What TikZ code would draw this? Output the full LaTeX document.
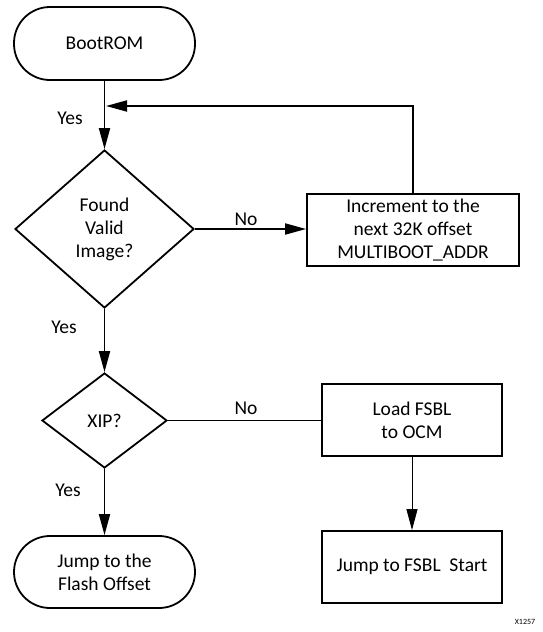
\documentclass[tikz,border=0pt]{standalone}
\usepackage{fontspec}
\setmainfont{Carlito}
\usetikzlibrary{shapes.geometric,arrows.meta}
\begin{document}
\begin{tikzpicture}[x=1pt,y=-1pt,
  every node/.style={font=\fontsize{19.5}{23}\selectfont, align=center, inner sep=0pt},
  term/.style={draw, line width=1.8pt, rounded corners=36pt, minimum width=181pt, minimum height=73pt},
  proc/.style={draw, line width=1.8pt, minimum width=212pt, minimum height=72pt},
  proc2/.style={draw, line width=1.8pt, minimum width=180pt, minimum height=72pt},
  dec/.style={draw, line width=1.8pt, diamond},
  flow/.style={line width=1.8pt, -{Triangle[length=21pt,width=11pt]}},
  thinflow/.style={line width=1pt, -{Triangle[length=21pt,width=11pt]}},
  line/.style={line width=1.8pt},
  lbl/.style={font=\fontsize{19.5}{23}\selectfont}
]
\useasboundingbox (0,0) rectangle (543,632);
\node[term] (boot) at (104.5,43.5) {BootROM};
\node[dec, minimum width=179pt, minimum height=158pt] (d1) at (104.5,229) {Found\\Valid\\Image?};
\node[proc] (inc) at (413,230) {Increment to the\\next 32K offset\\MULTIBOOT\_ADDR};
\node[dec, minimum width=125pt, minimum height=95pt] (d2) at (104.5,420.5) {XIP?};
\node[proc2] (load) at (412,420) {Load FSBL\\to OCM};
\node[proc2] (jfsbl) at (412,567) {Jump to FSBL\ \ Start};
\node[term, minimum height=72pt] (jflash) at (104.5,572) {Jump to the\\Flash Offset};
\coordinate (j) at (106,106);

\draw[flow] (boot.south) -- (d1.north);
\draw[flow] (inc.north) |- (j);
\draw[flow] (d1.east) -- (inc.west |- d1.east);
\draw[flow] (d1.south) -- (d2.north);
\draw[line] (d2.east) -- (load.west |- d2.east);
\draw[thinflow] (load.south) -- (jfsbl.north);
\draw[flow] (d2.south) -- (jflash.north);

\node[lbl] (y1) at (70,118) {Yes};
\node[lbl] (n1) at (246,219) {No};
\node[lbl] (y2) at (64,327) {Yes};
\node[lbl] (n2) at (246,408) {No};
\node[lbl] (y3) at (68,490) {Yes};
\node[font=\fontsize{8}{9}\selectfont] (xid) at (525,622) {X1257};
\end{tikzpicture}
\end{document}
